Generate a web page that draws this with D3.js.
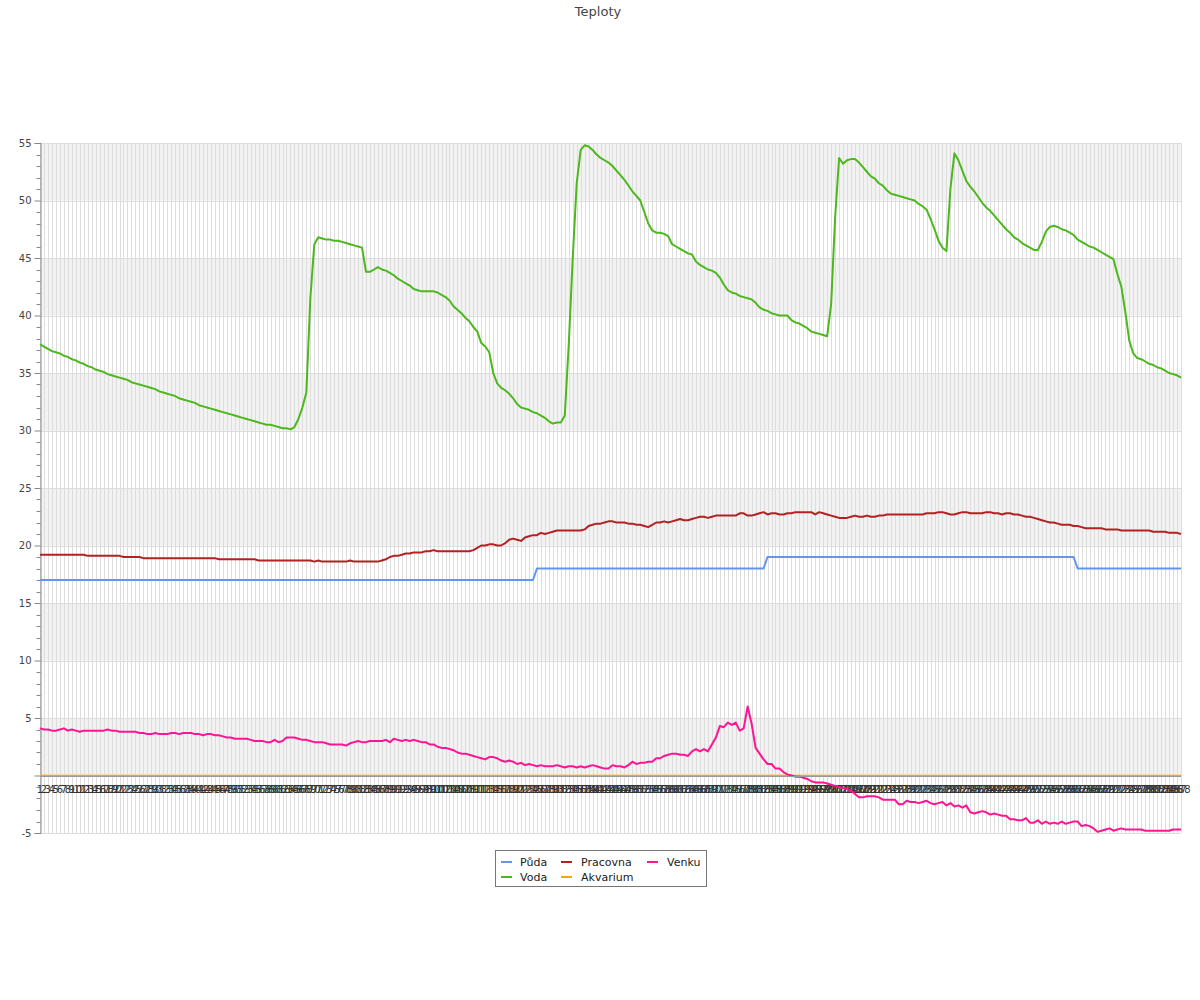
<!DOCTYPE html>
<html>
<head>
<meta charset="utf-8">
<script src="https://cdn.jsdelivr.net/npm/d3@7"></script>
<style>
  body { margin: 0; background: #fff; }
  svg { display: block; font-family: "DejaVu Sans", sans-serif; }
</style>
</head>
<body>
<svg id="chart" width="1200" height="1000"></svg>
<script>
const title = "Teploty";
const categories = Array.from({length: 288}, (_, i) => String(i + 1));
const yTicks = [-5, 0, 5, 10, 15, 20, 25, 30, 35, 40, 45, 50, 55];
const yTickLabels = ["-5", "", "5", "10", "15", "20", "25", "30", "35", "40", "45", "50", "55"];
const seriesNames = ["Půda", "Voda", "Pracovna", "Akvarium", "Venku"];
const seriesColors = ["#6495ed", "#4cb81c", "#b22222", "#ffa500", "#ff1493"];

const puda = [
 17,17,17,17,17,17,17,17,17,17, 17,17,17,17,17,17,17,17,17,17,
 17,17,17,17,17,17,17,17,17,17, 17,17,17,17,17,17,17,17,17,17,
 17,17,17,17,17,17,17,17,17,17, 17,17,17,17,17,17,17,17,17,17,
 17,17,17,17,17,17,17,17,17,17, 17,17,17,17,17,17,17,17,17,17,
 17,17,17,17,17,17,17,17,17,17, 17,17,17,17,17,17,17,17,17,17,
 17,17,17,17,17,17,17,17,17,17, 17,17,17,17,17,17,17,17,17,17,
 17,17,17,17,17,18,18,18,18,18, 18,18,18,18,18,18,18,18,18,18,
 18,18,18,18,18,18,18,18,18,18, 18,18,18,18,18,18,18,18,18,18,
 18,18,18,18,18,18,18,18,18,18, 18,18,18,18,18,18,18,18,18,18,
 18,18,18,19,19,19,19,19,19,19, 19,19,19,19,19,19,19,19,19,19,
 19,19,19,19,19,19,19,19,19,19, 19,19,19,19,19,19,19,19,19,19,
 19,19,19,19,19,19,19,19,19,19, 19,19,19,19,19,19,19,19,19,19,
 19,19,19,19,19,19,19,19,19,19, 19,19,19,19,19,19,19,19,19,19,
 19,18,18,18,18,18,18,18,18,18, 18,18,18,18,18,18,18,18,18,18,
 18,18,18,18,18,18,18,18
];

const voda = [
 37.5,37.3,37.1,36.9,36.8,36.7,36.5,36.4,36.2,36.1,
 35.9,35.8,35.6,35.5,35.3,35.2,35.1,34.9,34.8,34.7,
 34.6,34.5,34.4,34.2,34.1,34.0,33.9,33.8,33.7,33.6,
 33.4,33.3,33.2,33.1,33.0,32.8,32.7,32.6,32.5,32.4,
 32.2,32.1,32.0,31.9,31.8,31.7,31.6,31.5,31.4,31.3,
 31.2,31.1,31.0,30.9,30.8,30.7,30.6,30.5,30.5,30.4,
 30.3,30.2,30.2,30.1,30.3,31.0,32.0,33.3,41.5,46.2,
 46.8,46.7,46.6,46.6,46.5,46.5,46.4,46.3,46.2,46.1,
 46.0,45.9,43.8,43.8,44.0,44.2,44.0,43.9,43.7,43.5,
 43.2,43.0,42.8,42.6,42.3,42.2,42.1,42.1,42.1,42.1,
 42.0,41.8,41.6,41.3,40.8,40.5,40.2,39.8,39.5,39.0,
 38.6,37.6,37.3,36.8,35.0,34.1,33.7,33.5,33.2,32.8,
 32.3,32.0,31.9,31.8,31.6,31.5,31.3,31.1,30.8,30.6,
 30.7,30.7,31.3,37.5,45.0,51.5,54.4,54.8,54.7,54.4,
 54.0,53.7,53.5,53.3,53.0,52.6,52.2,51.8,51.3,50.8,
 50.4,50.0,49.0,48.0,47.4,47.2,47.2,47.1,46.9,46.2,
 46.0,45.8,45.6,45.4,45.3,44.7,44.4,44.2,44.0,43.9,
 43.7,43.3,42.7,42.2,42.0,41.9,41.7,41.6,41.5,41.4,
 41.1,40.7,40.5,40.4,40.2,40.1,40.0,40.0,40.0,39.6,
 39.4,39.3,39.1,38.9,38.6,38.5,38.4,38.3,38.2,41.0,
 48.5,53.7,53.2,53.5,53.6,53.6,53.3,52.9,52.5,52.1,
 51.9,51.5,51.3,50.9,50.6,50.5,50.4,50.3,50.2,50.1,
 50.0,49.7,49.5,49.2,48.4,47.5,46.5,45.9,45.6,51.0,
 54.1,53.5,52.6,51.7,51.2,50.8,50.3,49.8,49.4,49.1,
 48.7,48.3,47.9,47.5,47.2,46.8,46.6,46.3,46.1,45.9,
 45.7,45.7,46.4,47.3,47.7,47.8,47.7,47.5,47.4,47.2,
 47.0,46.6,46.4,46.2,46.0,45.9,45.7,45.5,45.3,45.1,
 44.9,43.6,42.5,40.3,37.8,36.7,36.3,36.2,36.0,35.8,
 35.7,35.5,35.4,35.2,35.0,34.9,34.8,34.6
];

const pracovna = [
 19.2,19.2,19.2,19.2,19.2,19.2,19.2,19.2,19.2,19.2,
 19.2,19.2,19.1,19.1,19.1,19.1,19.1,19.1,19.1,19.1,
 19.1,19.0,19.0,19.0,19.0,19.0,18.9,18.9,18.9,18.9,
 18.9,18.9,18.9,18.9,18.9,18.9,18.9,18.9,18.9,18.9,
 18.9,18.9,18.9,18.9,18.9,18.8,18.8,18.8,18.8,18.8,
 18.8,18.8,18.8,18.8,18.8,18.7,18.7,18.7,18.7,18.7,
 18.7,18.7,18.7,18.7,18.7,18.7,18.7,18.7,18.7,18.6,
 18.7,18.6,18.6,18.6,18.6,18.6,18.6,18.6,18.7,18.6,
 18.6,18.6,18.6,18.6,18.6,18.6,18.7,18.8,19.0,19.1,
 19.1,19.2,19.3,19.3,19.4,19.4,19.4,19.5,19.5,19.6,
 19.5,19.5,19.5,19.5,19.5,19.5,19.5,19.5,19.5,19.6,
 19.8,20.0,20.0,20.1,20.1,20.0,20.0,20.2,20.5,20.6,
 20.5,20.4,20.7,20.8,20.9,20.9,21.1,21.0,21.1,21.2,
 21.3,21.3,21.3,21.3,21.3,21.3,21.3,21.4,21.7,21.8,
 21.9,21.9,22.0,22.1,22.1,22.0,22.0,22.0,21.9,21.9,
 21.8,21.8,21.7,21.6,21.8,22.0,22.0,22.1,22.0,22.1,
 22.2,22.3,22.2,22.2,22.3,22.4,22.5,22.5,22.4,22.5,
 22.6,22.6,22.6,22.6,22.6,22.6,22.8,22.8,22.6,22.6,
 22.7,22.8,22.9,22.7,22.8,22.8,22.7,22.7,22.8,22.8,
 22.9,22.9,22.9,22.9,22.9,22.7,22.9,22.8,22.7,22.6,
 22.5,22.4,22.4,22.4,22.5,22.6,22.5,22.5,22.6,22.5,
 22.5,22.6,22.6,22.7,22.7,22.7,22.7,22.7,22.7,22.7,
 22.7,22.7,22.7,22.8,22.8,22.8,22.9,22.9,22.8,22.7,
 22.7,22.8,22.9,22.9,22.8,22.8,22.8,22.8,22.9,22.9,
 22.8,22.8,22.7,22.8,22.8,22.7,22.7,22.6,22.5,22.5,
 22.4,22.3,22.2,22.1,22.0,22.0,21.9,21.8,21.8,21.8,
 21.7,21.7,21.6,21.5,21.5,21.5,21.5,21.5,21.4,21.4,
 21.4,21.4,21.3,21.3,21.3,21.3,21.3,21.3,21.3,21.3,
 21.2,21.2,21.2,21.2,21.1,21.1,21.1,21.0
];

const akvarium = [
 0,0,0,0,0,0,0,0,0,0, 0,0,0,0,0,0,0,0,0,0, 0,0,0,0,0,0,0,0,0,0,
 0,0,0,0,0,0,0,0,0,0, 0,0,0,0,0,0,0,0,0,0, 0,0,0,0,0,0,0,0,0,0,
 0,0,0,0,0,0,0,0,0,0, 0,0,0,0,0,0,0,0,0,0, 0,0,0,0,0,0,0,0,0,0,
 0,0,0,0,0,0,0,0,0,0, 0,0,0,0,0,0,0,0,0,0, 0,0,0,0,0,0,0,0,0,0,
 0,0,0,0,0,0,0,0,0,0, 0,0,0,0,0,0,0,0,0,0, 0,0,0,0,0,0,0,0,0,0,
 0,0,0,0,0,0,0,0,0,0, 0,0,0,0,0,0,0,0,0,0, 0,0,0,0,0,0,0,0,0,0,
 0,0,0,0,0,0,0,0,0,0, 0,0,0,0,0,0,0,0,0,0, 0,0,0,0,0,0,0,0,0,0,
 0,0,0,0,0,0,0,0,0,0, 0,0,0,0,0,0,0,0,0,0, 0,0,0,0,0,0,0,0,0,0,
 0,0,0,0,0,0,0,0,0,0, 0,0,0,0,0,0,0,0,0,0, 0,0,0,0,0,0,0,0,0,0,
 0,0,0,0,0,0,0,0,0,0, 0,0,0,0,0,0,0,0
];

const venku = [
 4.1,4.0,4.0,3.9,3.9,4.0,4.1,3.9,4.0,3.9,
 3.8,3.9,3.9,3.9,3.9,3.9,3.9,4.0,3.9,3.9,
 3.8,3.8,3.8,3.8,3.8,3.7,3.7,3.6,3.6,3.7,
 3.6,3.6,3.6,3.7,3.7,3.6,3.7,3.7,3.7,3.6,
 3.6,3.5,3.6,3.6,3.5,3.5,3.4,3.3,3.3,3.2,
 3.2,3.2,3.2,3.1,3.0,3.0,3.0,2.9,2.9,3.1,
 2.9,3.0,3.3,3.3,3.3,3.2,3.1,3.1,3.0,2.9,
 2.9,2.9,2.8,2.7,2.7,2.7,2.7,2.6,2.8,2.9,
 3.0,2.9,2.9,3.0,3.0,3.0,3.0,3.1,2.9,3.2,
 3.1,3.0,3.1,3.0,3.1,3.0,2.9,2.9,2.7,2.7,
 2.5,2.4,2.4,2.3,2.2,2.0,1.9,1.9,1.8,1.7,
 1.6,1.5,1.4,1.6,1.6,1.5,1.3,1.2,1.3,1.2,
 1.0,1.1,0.9,1.0,0.9,0.8,0.9,0.8,0.8,0.8,
 0.9,0.8,0.7,0.8,0.8,0.7,0.8,0.7,0.8,0.9,
 0.8,0.7,0.6,0.6,0.9,0.8,0.8,0.7,0.9,1.2,
 1.0,1.1,1.1,1.2,1.2,1.5,1.5,1.7,1.8,1.9,
 1.9,1.8,1.8,1.7,2.1,2.3,2.1,2.3,2.1,2.7,
 3.3,4.3,4.2,4.6,4.4,4.6,3.9,4.1,6.0,4.5,
 2.4,1.9,1.4,1.0,1.0,0.6,0.6,0.3,0.1,0.0,
 -0.1,-0.1,-0.2,-0.3,-0.5,-0.6,-0.6,-0.6,-0.7,-0.8,
 -0.9,-1.0,-1.1,-1.2,-1.3,-1.6,-1.9,-1.9,-1.8,-1.8,
 -1.8,-1.9,-2.1,-2.1,-2.1,-2.1,-2.5,-2.5,-2.2,-2.3,
 -2.3,-2.4,-2.3,-2.2,-2.4,-2.5,-2.4,-2.3,-2.6,-2.4,
 -2.7,-2.6,-2.8,-2.6,-3.2,-3.3,-3.2,-3.1,-3.2,-3.4,
 -3.3,-3.4,-3.5,-3.5,-3.8,-3.8,-3.9,-3.9,-3.7,-4.1,
 -4.1,-3.9,-4.2,-4.0,-4.2,-4.1,-4.2,-4.0,-4.2,-4.1,
 -4.0,-4.0,-4.4,-4.3,-4.4,-4.6,-4.9,-4.8,-4.7,-4.6,
 -4.8,-4.7,-4.6,-4.7,-4.7,-4.7,-4.7,-4.7,-4.8,-4.8,
 -4.8,-4.8,-4.8,-4.8,-4.8,-4.7,-4.7,-4.7
];

const seriesData = [puda, voda, pracovna, akvarium, venku];

(function () {
const svg = d3.select("#chart");
const pLeft = 40, pRight = 1181, pTop = 143, pBottom = 833;

const x = d3.scalePoint().domain(categories).range([pLeft, pRight]);
const y = d3.scaleLinear().domain([-5, 55]).range([pBottom, pTop]);

// title
svg.append("text")
  .attr("x", 598).attr("y", 16)
  .attr("text-anchor", "middle")
  .attr("font-size", 13).attr("fill", "#444")
  .text(title);

// alternating bands
const bandStarts = [0, 10, 20, 30, 40, 50];
svg.append("g").selectAll("rect").data(bandStarts).join("rect")
  .attr("x", pLeft).attr("width", pRight - pLeft)
  .attr("y", d => y(d + 5)).attr("height", d => y(d) - y(d + 5))
  .attr("fill", "#f2f2f2");

// vertical grid
svg.append("g").selectAll("line").data(categories).join("line")
  .attr("x1", d => Math.round(x(d)) + 0.5).attr("x2", d => Math.round(x(d)) + 0.5)
  .attr("y1", pTop).attr("y2", pBottom)
  .attr("stroke", "#dddddd").attr("stroke-width", 1);

// horizontal grid
svg.append("g").selectAll("line").data(yTicks).join("line")
  .attr("x1", pLeft).attr("x2", pRight)
  .attr("y1", d => Math.round(y(d)) + 0.5).attr("y2", d => Math.round(y(d)) + 0.5)
  .attr("stroke", "#dddddd");

// y axis
const yAxis = d3.axisLeft(y).tickValues(yTicks).tickSize(6).tickPadding(3)
  .tickFormat((d, i) => yTickLabels[i]);
const gy = svg.append("g").attr("transform", `translate(${pLeft + 0.5},0)`).call(yAxis);
gy.select(".domain").attr("stroke", "#888");
gy.selectAll(".tick line").attr("stroke", "#888");
gy.selectAll(".tick text").attr("font-size", 10).attr("fill", "#444")
  .attr("font-family", "DejaVu Sans, sans-serif");
const minorTicks = d3.range(-5, 56).filter(v => v % 5 !== 0);
gy.append("g").selectAll("line").data(minorTicks).join("line")
  .attr("x1", -4).attr("x2", 0)
  .attr("y1", d => Math.round(y(d)) + 0.5).attr("y2", d => Math.round(y(d)) + 0.5)
  .attr("stroke", "#888");

// x labels
svg.append("g").selectAll("text").data(categories).join("text")
  .attr("x", d => x(d)).attr("y", Math.round(y(0)) + 18)
  .attr("text-anchor", "middle")
  .attr("font-size", 10).attr("fill", "#333")
  .text(d => d);

// lines
const line = d3.line().x((d, i) => x(categories[i])).y(d => y(d));
const drawOrder = [1, 2, 0, 3, 4];
svg.append("g").selectAll("path").data(drawOrder).join("path")
  .attr("d", k => line(seriesData[k]))
  .attr("fill", "none")
  .attr("stroke", k => seriesColors[k])
  .attr("stroke-width", k => k === 3 ? 1.5 : 2)
  .attr("stroke-linejoin", "round");

// zero line (x axis) just under the Akvarium trace
svg.append("line")
  .attr("x1", pLeft).attr("x2", pRight)
  .attr("y1", Math.round(y(0)) + 1.5).attr("y2", Math.round(y(0)) + 1.5)
  .attr("stroke", "#999");

// legend
const lg = svg.append("g");
lg.append("rect").attr("x", 495.5).attr("y", 850.5).attr("width", 211).attr("height", 36)
  .attr("fill", "#fff").attr("stroke", "#777");
const legendPos = [
  {sx: 501, tx: 520, cy: 862},
  {sx: 501, tx: 520, cy: 877},
  {sx: 561, tx: 581, cy: 862},
  {sx: 561, tx: 581, cy: 877},
  {sx: 647, tx: 667, cy: 862}
];
seriesNames.forEach((name, k) => {
  const p = legendPos[k];
  lg.append("line").attr("x1", p.sx).attr("x2", p.sx + 11)
    .attr("y1", p.cy).attr("y2", p.cy)
    .attr("stroke", seriesColors[k]).attr("stroke-width", 2);
  lg.append("text").attr("x", p.tx).attr("y", p.cy + 4)
    .attr("font-size", 11).attr("fill", "#222").text(name);
});
})();
</script>
</body>
</html>
